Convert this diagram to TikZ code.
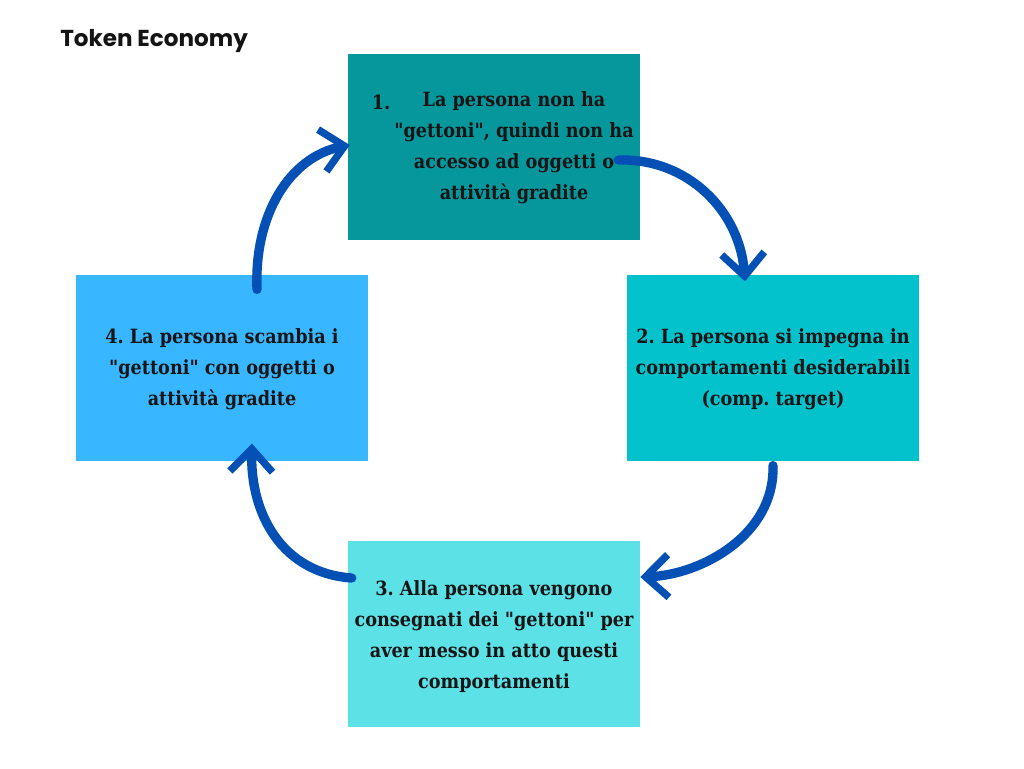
\documentclass[tikz,border=0pt]{standalone}
\usepackage{fontspec}
\setmainfont{DejaVu Serif Condensed}
\newfontfamily\titlefont{Poppins}
\usetikzlibrary{arrows.meta,calc}
\definecolor{cone}{HTML}{06979D}
\definecolor{ctwo}{HTML}{03C2CC}
\definecolor{cthree}{HTML}{5CE1E6}
\definecolor{cfour}{HTML}{38B6FF}
\definecolor{carrow}{HTML}{0450B4}
\definecolor{ctext}{HTML}{141414}
\newcommand\qq{\textquotedbl}
\frenchspacing
\begin{document}
\begin{tikzpicture}[x=0.75pt,y=-0.75pt,
  box/.style={inner sep=0pt,minimum width=219pt,minimum height=140pt},
  txt/.style={align=center,text=ctext,inner sep=0pt,font=\bfseries\fontsize{14.7}{23.25}\selectfont},
  brush/.style={draw=carrow,line width=7pt,line cap=round,
    -{Straight Barb[length=17pt,width=32pt,line width=5.5pt]}}]
\useasboundingbox (0,0) rectangle (1024,768);
\fill[white] (0,0) rectangle (1024,768);
\node[anchor=west,text=ctext,inner sep=0pt,font=\titlefont\bfseries\fontsize{17.3}{20}\selectfont] (title) at (60,41) {Token Economy};
\node[box,fill=cone] (b1) at (494,147) {};
\node[box,fill=ctwo] (b2) at (773,368) {};
\node[box,fill=cthree] (b3) at (494,634) {};
\node[box,fill=cfour] (b4) at (222,368) {};
\node[txt] (n1) at (381,102) {1.};
\node[txt] (t1) at (514,148) {La persona non ha\\\qq gettoni\qq, quindi non ha\\accesso ad oggetti o\\attività gradite};
\node[txt] (t2) at (773,369) {2. La persona si impegna in\\comportamenti desiderabili\\(comp. target)};
\node[txt] (t3) at (494,637) {3. Alla persona vengono\\consegnati dei \qq gettoni\qq{} per\\aver messo in atto questi\\comportamenti};
\node[txt] (t4) at (222,369) {4. La persona scambia i\\\qq gettoni\qq{} con oggetti o\\attività gradite};
\coordinate (s1) at ($(b1.east)+(-22,13)$);
\coordinate (e1) at ($(b2.north)+(-28,7)$);
\coordinate (s2) at ($(b2.south)+(0,4)$);
\coordinate (e2) at ($(b3.east)+(0,-57)$);
\coordinate (s3) at ($(b3.west)+(4,-56)$);
\coordinate (e3) at ($(b4.south)+(30,-18)$);
\coordinate (s4) at ($(b4.north)+(35,15)$);
\coordinate (e4) at ($(b1.west)+(2,-2)$);
\draw[brush] (s1) .. controls +(70,-2) and +(-5,-70) .. (e1);
\draw[brush] (s2) .. controls +(2,70) and +(60,-2) .. (e2);
\draw[brush] (s3) .. controls +(-70,-5) and +(-2,70) .. (e3);
\draw[brush] (s4) .. controls +(-3,-75) and +(-60,12) .. (e4);
\end{tikzpicture}
\end{document}
